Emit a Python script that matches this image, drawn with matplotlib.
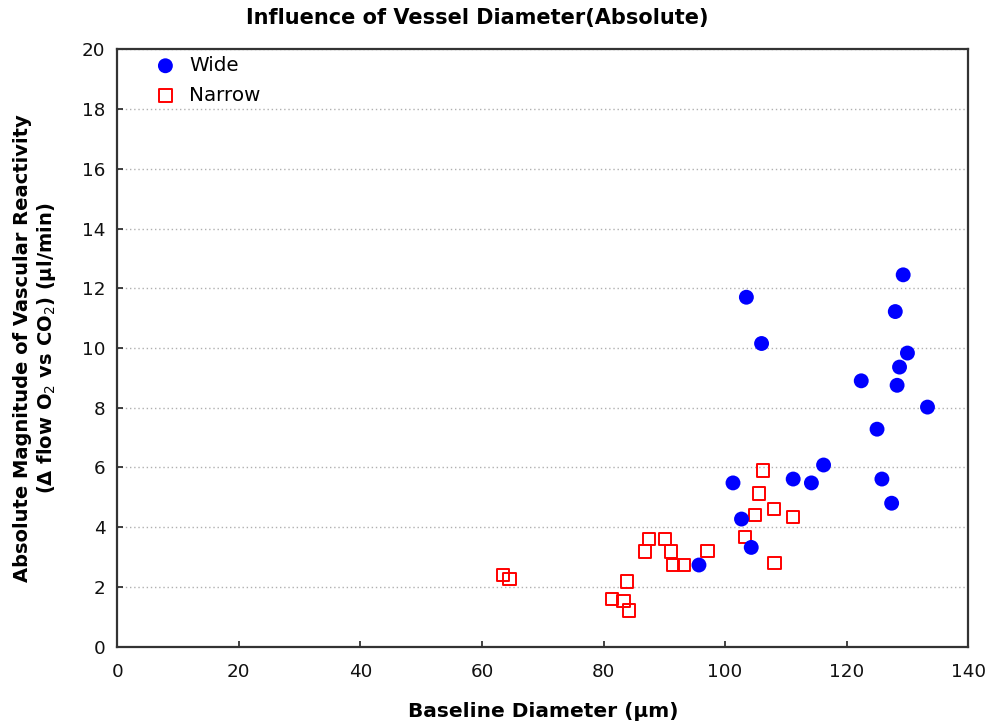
import matplotlib
matplotlib.use("Agg")
import matplotlib.pyplot as plt

plt.rcParams['font.family'] = ['DejaVu Sans']
plt.rcParams['mathtext.fontset'] = 'dejavusans'

# Wide vessels
wide_x = [103.5, 106.0, 101.3, 102.7, 104.3, 95.7, 129.3, 128.0, 130.0, 128.7,
          122.4, 128.3, 133.3, 125.0, 116.2, 111.2, 114.2, 125.8, 127.4]
wide_y = [11.7, 10.15, 5.48, 4.27, 3.32, 2.73, 12.45, 11.22, 9.83, 9.36,
          8.9, 8.75, 8.02, 7.28, 6.08, 5.61, 5.48, 5.61, 4.8]

# Narrow vessels
narrow_x = [106.2, 105.6, 108.0, 104.9, 103.3, 108.1, 97.1, 87.5, 90.1, 86.8,
            91.1, 91.4, 93.2, 63.5, 64.5, 83.9, 81.4, 83.3, 84.2, 111.2]
narrow_y = [5.89, 5.12, 4.6, 4.4, 3.67, 2.79, 3.2, 3.6, 3.6, 3.18,
            3.18, 2.73, 2.73, 2.4, 2.26, 2.18, 1.59, 1.53, 1.2, 4.34]

x_ticks = [0, 20, 40, 60, 80, 100, 120, 140]
y_ticks = [0, 2, 4, 6, 8, 10, 12, 14, 16, 18, 20]

fig = plt.figure(figsize=(9.9, 7.27), dpi=100)
ax = fig.add_axes([0.1185, 0.1107, 0.978 - 0.1185, 0.932 - 0.1107])

ax.scatter(narrow_x, narrow_y, s=80, marker='s', facecolors='none',
           edgecolors='#ff0000', linewidths=1.4, label='Narrow', zorder=3)
ax.scatter(wide_x, wide_y, s=115, marker='o', color='#0000ff',
           edgecolors='none', label='Wide', zorder=4)

ax.set_xlim(0, 140)
ax.set_ylim(0, 20)
ax.set_xticks(x_ticks)
ax.set_yticks(y_ticks)
ax.tick_params(direction='in', labelsize=13.2, length=4, width=1.2,
               colors='#222222', labelcolor='#111111')
ax.tick_params(axis='x', pad=12)
ax.tick_params(axis='y', pad=8.5)
ax.yaxis.grid(True, linestyle=(0, (1, 2)), color='#b0b0b0', linewidth=1)
ax.set_axisbelow(True)
for sp in ax.spines.values():
    sp.set_linewidth(1.6)
    sp.set_color('#333333')

# title sits a bit left of the axes centre in the original
fig.text(0.482, 0.975, 'Influence of Vessel Diameter(Absolute)', fontsize=15,
         fontweight='bold', ha='center', va='center')
ax.set_xlabel('Baseline Diameter (µm)', fontsize=14.5, fontweight='bold',
              labelpad=15)
ax.set_ylabel('Absolute Magnitude of Vascular Reactivity\n'
              '(Δ flow O$_2$ vs CO$_2$) (µl/min)',
              fontsize=14, fontweight='bold', labelpad=17, linespacing=1.2)

handles, labels = ax.get_legend_handles_labels()
ax.legend(handles[::-1], labels[::-1], loc='upper left', frameon=False,
          fontsize=14.3, bbox_to_anchor=(0.018, 1.019), handletextpad=0.45,
          labelspacing=0.55, handlelength=1.5)

fig.savefig('out.png', dpi=100)
